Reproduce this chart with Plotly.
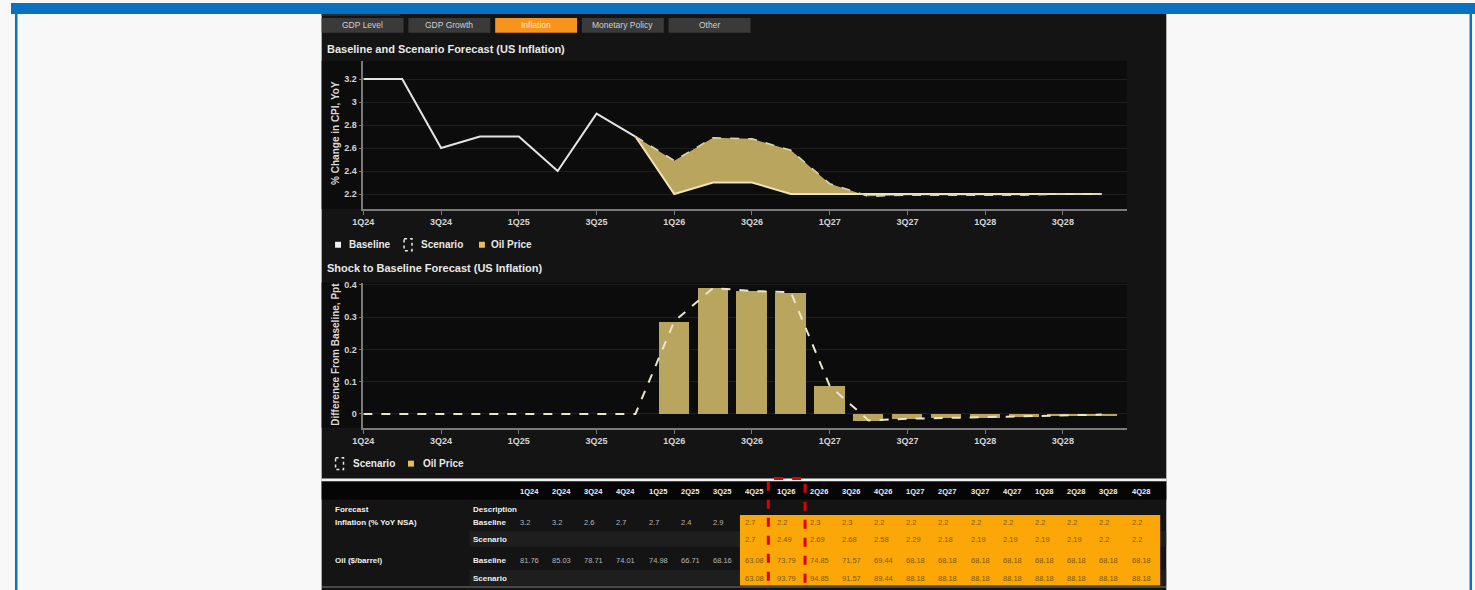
import plotly.graph_objects as go

W, H = 1475, 590

# ---- data ----
quarters = ["1Q24", "2Q24", "3Q24", "4Q24", "1Q25", "2Q25", "3Q25", "4Q25",
            "1Q26", "2Q26", "3Q26", "4Q26", "1Q27", "2Q27", "3Q27", "4Q27",
            "1Q28", "2Q28", "3Q28", "4Q28"]
infl_baseline = [3.2, 3.2, 2.6, 2.7, 2.7, 2.4, 2.9, 2.7, 2.2, 2.3, 2.3, 2.2,
                 2.2, 2.2, 2.2, 2.2, 2.2, 2.2, 2.2, 2.2]
infl_scenario = [None, None, None, None, None, None, None, 2.7, 2.49, 2.69, 2.68, 2.58,
                 2.29, 2.18, 2.19, 2.19, 2.19, 2.19, 2.2, 2.2]
# shock (unrounded)
shock = [0, 0, 0, 0, 0, 0, 0, 0, 0.287, 0.39, 0.381, 0.377,
         0.087, -0.02, -0.015, -0.012, -0.01, -0.008, -0.005, -0.002]
oil_baseline = [81.76, 85.03, 78.71, 74.01, 74.98, 66.71, 68.16, 63.08, 73.79, 74.85, 71.57, 69.44,
                68.18, 68.18, 68.18, 68.18, 68.18, 68.18, 68.18, 68.18]
oil_scenario = [None, None, None, None, None, None, None, 63.08, 93.79, 94.85, 91.57, 89.44,
                88.18, 88.18, 88.18, 88.18, 88.18, 88.18, 88.18, 88.18]
forecast_start = 7  # 4Q25, first highlighted column
tabs = ["GDP Level", "GDP Growth", "Inflation", "Monetary Policy", "Other"]
active_tab = "Inflation"

idx = list(range(len(quarters)))
GOLD = "#b9a55d"
FONT = "Liberation Sans, Arial, sans-serif"


def px(x):
    return x / W


def py(y):
    return 1 - y / H


fig = go.Figure()

# upper chart: baseline vs scenario
fig.add_trace(go.Scatter(x=idx[:forecast_start + 1], y=infl_baseline[:forecast_start + 1], mode="lines",
                         line=dict(color="#e4e4e4", width=2), hoverinfo="skip", showlegend=False))
fig.add_trace(go.Scatter(x=idx[forecast_start:], y=infl_baseline[forecast_start:], mode="lines",
                         line=dict(color="#eee4b4", width=2), hoverinfo="skip", showlegend=False))
fig.add_trace(go.Scatter(x=idx[forecast_start:], y=infl_scenario[forecast_start:], mode="lines",
                         fill="tonexty", fillcolor=GOLD,
                         line=dict(color="#ddd3a8", width=1.6, dash="dash"), hoverinfo="skip", showlegend=False))

# lower chart: shock
fig.add_trace(go.Bar(x=idx, y=shock, marker=dict(color=GOLD, line=dict(width=0)), width=0.78,
                     xaxis="x2", yaxis="y2", hoverinfo="skip", showlegend=False))
fig.add_trace(go.Scatter(x=idx, y=shock, mode="lines", line=dict(color="#ebe5cc", width=2, dash="dash"),
                         xaxis="x2", yaxis="y2", hoverinfo="skip", showlegend=False))

shapes = []
ann = []


def rect(x0, y0, x1, y1, color, layer="below", line=None):
    shapes.append(dict(type="rect", xref="paper", yref="paper", x0=px(x0), x1=px(x1), y0=py(y0), y1=py(y1),
                       fillcolor=color, line=line or dict(width=0), layer=layer))


def text(x, y, s, size=10, color="#e8e8e8", bold=True, anchor="left", angle=0):
    ann.append(dict(xref="paper", yref="paper", x=px(x), y=py(y), text=("<b>%s</b>" % s) if bold else s,
                    showarrow=False, xanchor=anchor, yanchor="middle", textangle=angle,
                    font=dict(family=FONT, size=size, color=color)))


# page frame
rect(0, 0, W, 11, "#0a70c0")
rect(4, 0, 6.5, H, "#0a70c0")
rect(1469.5, 0, 1472, H, "#0a70c0")
rect(313, 11, 1164, H, "#141414")
rect(313, 58, 1124, 207, "#0c0c0c")
rect(313, 281, 1124, 427, "#0c0c0c")
rect(313, 478, 1164, 481, "#f2f2f2")
rect(313, 481, 1164, 499, "#050505")
rect(313, 11, 392, 13, "#2a2a2a")

# tabs
for i, t in enumerate(tabs):
    x0 = 313 + i * 87.4
    on = t == active_tab
    rect(x0, 15, x0 + 82.5, 30, "#f7941d" if on else "#3a3a3a")
    text(x0 + 41, 22.5, t, size=8.5, color="#fde6c4" if on else "#cfcfcf", bold=False, anchor="center")

# titles
text(316, 46, "Baseline and Scenario Forecast (US Inflation)", size=11)
text(316, 266, "Shock to Baseline Forecast (US Inflation)", size=11)
text(327, 131, "% Change in CPI, YoY", size=10, color="#d8d8d8", anchor="center", angle=-90)
text(327, 353, "Difference From Baseline, Ppt", size=10, color="#d8d8d8", anchor="center", angle=-90)

# legends
rect(326.5, 240, 332.5, 246, "#f0f0f0", layer="above")
text(339, 243, "Baseline", size=10)
rect(396, 237, 404, 249, "rgba(0,0,0,0)", layer="above", line=dict(color="#e8e8e8", width=1.5, dash="dot"))
text(411, 243, "Scenario", size=10)
rect(471.5, 240, 477.5, 246, "#e2c15a", layer="above")
text(482, 243, "Oil Price", size=10)

rect(327, 457, 335, 469, "rgba(0,0,0,0)", layer="above", line=dict(color="#e8e8e8", width=1.5, dash="dot"))
text(343, 463, "Scenario", size=10)
rect(400, 460, 406, 466, "#e2c15a", layer="above")
text(413, 463, "Oil Price", size=10)

# ---- table (x3: column units, y3: pixel rows) ----
col_left = -6.14
col_right = 20.09
row_head, row_desc, row_ib, row_is, row_ob, row_os = 491, 509, 522.5, 539, 560, 578


def tshape(x0, x1, y0, y1, color):
    shapes.append(dict(type="rect", xref="x3", yref="y3", x0=x0, x1=x1, y0=y0, y1=y1,
                       fillcolor=color, line=dict(width=0), layer="below"))


def ttext(x, y, s, color, bold=False, size=8):
    ann.append(dict(xref="x3", yref="y3", x=x, y=y, text=("<b>%s</b>" % s) if bold else s, showarrow=False,
                    xanchor="left", yanchor="middle", font=dict(family=FONT, size=size, color=color)))


tshape(-1.55, col_right, 531, 546.5, "#1e1e1e")
tshape(-1.55, col_right, 570, 585.5, "#1e1e1e")
tshape(forecast_start - 0.15, 19.9, 514.5, 585.5, "#fba708")
shapes.append(dict(type="line", xref="x3", yref="y3", x0=col_left, x1=col_right, y0=587, y1=587,
                   line=dict(color="#5a5a5a", width=1.5)))

for i, q in enumerate(quarters):
    ttext(i - 0.05, row_head, q, "#f0f0f0", bold=True, size=7.5)
    for row, vals in ((row_ib, infl_baseline), (row_is, infl_scenario), (row_ob, oil_baseline), (row_os, oil_scenario)):
        if vals[i] is None:
            continue
        ttext(i - 0.05, row, str(vals[i]), "#7a5c00" if i >= forecast_start else "#b4b4b4", size=7.5)

ttext(-5.8, row_desc, "Forecast", "#f0f0f0", bold=True)
ttext(-1.5, row_desc, "Description", "#f0f0f0", bold=True)
ttext(-5.8, row_ib, "Inflation (% YoY NSA)", "#f0f0f0", bold=True)
ttext(-5.8, row_ob, "Oil ($/barrel)", "#f0f0f0", bold=True)
for row, lab in ((row_ib, "Baseline"), (row_is, "Scenario"), (row_ob, "Baseline"), (row_os, "Scenario")):
    ttext(-1.5, row, lab, "#f0f0f0", bold=True)

# red dashed highlight around 1Q26
shapes.append(dict(type="rect", xref="paper", yref="paper", x0=px(763), x1=px(800), y0=py(600), y1=py(478),
                   line=dict(color="#e00000", width=3, dash="dash"), layer="above"))

axis_font = dict(family=FONT, size=9, color="#d4d4d4", weight="bold")
xcommon = dict(range=[0, 19.64], tickvals=idx[::2], ticktext=quarters[::2], showline=True,
               linecolor="#7a7a7a", linewidth=1.5, ticks="outside", ticklen=4, tickcolor="#7a7a7a",
               showgrid=False, zeroline=False, tickfont=axis_font, fixedrange=True)
ycommon = dict(showline=True, linecolor="#7a7a7a", linewidth=1.5, ticks="outside", ticklen=3,
               tickcolor="#7a7a7a", gridcolor="#1e1e1e", zeroline=False, tickfont=axis_font, fixedrange=True)

fig.update_layout(
    width=W, height=H, autosize=False,
    margin=dict(l=0, r=0, t=0, b=0),
    paper_bgcolor="#f8f8f8", plot_bgcolor="rgba(0,0,0,0)",
    showlegend=False, bargap=0,
    xaxis=dict(domain=[px(355), px(1124)], anchor="y", **xcommon),
    yaxis=dict(domain=[py(207), py(58)], anchor="x", range=[2.07, 3.36],
               tickvals=[2.2, 2.4, 2.6, 2.8, 3.0, 3.2], ticktext=["2.2", "2.4", "2.6", "2.8", "3", "3.2"],
               **ycommon),
    xaxis2=dict(domain=[px(355), px(1124)], anchor="y2", **xcommon),
    yaxis2=dict(domain=[py(427), py(281)], anchor="x2", range=[-0.043, 0.407],
                tickvals=[0, 0.1, 0.2, 0.3, 0.4], ticktext=["0", "0.1", "0.2", "0.3", "0.4"], **ycommon),
    xaxis3=dict(domain=[px(313), px(1164)], anchor="y3", range=[col_left, col_right], visible=False,
                fixedrange=True),
    yaxis3=dict(domain=[0, py(481)], anchor="x3", range=[590, 481], visible=False, fixedrange=True),
    shapes=shapes, annotations=ann,
)

page_fix = (
    "document.documentElement.style.margin='0';document.documentElement.style.overflow='hidden';"
    "document.body.style.margin='0';document.body.style.overflow='hidden';"
    "document.body.style.height='590px';"
)
fig.write_html("out.html", config={"displayModeBar": False, "responsive": False}, post_script=page_fix)
